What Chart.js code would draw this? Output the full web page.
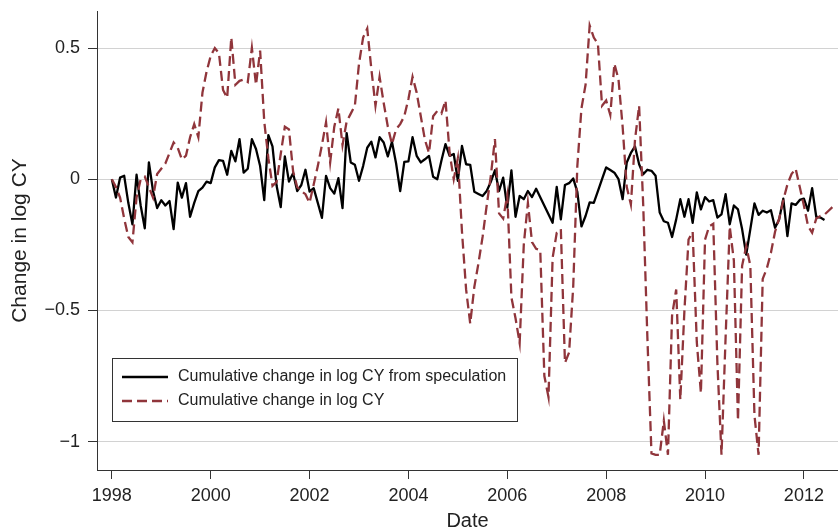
<!DOCTYPE html>
<html>
<head>
<meta charset="utf-8">
<script src="https://cdn.jsdelivr.net/npm/chart.js@4"></script>
<style>
  body { margin: 0; background: #fff; }
  #wrap { width: 838px; height: 531px; }
</style>
</head>
<body>
<div id="wrap"><canvas id="chart" width="838" height="531"></canvas></div>
<script>
// monthly series, first value = Jan 1998
const startYear = 1998;

// cumulative change in log CY from speculation (black)
const speculation = [
  0, -0.07, 0.006, 0.013, -0.09, -0.172, 0.017, -0.10, -0.187, 0.064, -0.045, -0.11,
  -0.08, -0.10, -0.083, -0.19, -0.013, -0.07, -0.015, -0.143, -0.09, -0.045, -0.032, -0.009,
  -0.015, 0.045, 0.073, 0.07, 0.017, 0.108, 0.068, 0.153, 0.025, 0.04, 0.153, 0.115,
  0.05, -0.08, 0.168, 0.125, -0.025, -0.106, 0.087, -0.009, 0.023, -0.045, -0.022, 0.036,
  -0.047, -0.034, -0.09, -0.147, 0.013, -0.034, -0.055, 0.004, -0.11, 0.176, 0.064, 0.055,
  -0.006, 0.05, 0.12, 0.143, 0.083, 0.16, 0.14, 0.087, 0.143, 0.061, -0.045, 0.066,
  0.068, 0.16, 0.089, 0.064, 0.076, 0.089, 0.009, 0.0, 0.07, 0.134, 0.089, 0.096,
  -0.006, 0.127, 0.057, 0.055, -0.048, -0.056, -0.064, -0.045, -0.01, 0.034, -0.045, 0.006,
  -0.108, 0.034, -0.143, -0.064, -0.076, -0.045, -0.068, -0.036, null, null, null, -0.166,
  -0.029, -0.153, -0.022, -0.015, 0.003, -0.048, -0.18, -0.14, -0.088, -0.09, -0.045, 0.0,
  0.045, 0.035, 0.025, 0.0, -0.076, 0.064, 0.10, 0.125, 0.057, 0.019, 0.036, 0.032,
  0.013, -0.127, -0.16, -0.166, -0.22, -0.153, -0.076, -0.143, -0.076, -0.166, -0.05, -0.115,
  -0.068, -0.085, -0.08, -0.146, -0.134, -0.057, -0.172, -0.10, -0.115, -0.19, -0.287, -0.19,
  -0.092, -0.136, -0.12, -0.127, -0.118, -0.185, -0.153, -0.074, -0.217, -0.092, -0.098, -0.079,
  -0.074, -0.12, -0.034, -0.143, -0.146, -0.155
];

// cumulative change in log CY (red dashed)
const total = [
  0, -0.03, -0.07, -0.15, -0.22, -0.24, -0.07, 0.0, 0.01, -0.03, -0.07, 0.02,
  0.04, 0.06, 0.10, 0.14, 0.12, 0.075, 0.09, 0.16, 0.21, 0.16, 0.33, 0.41,
  0.47, 0.50, 0.48, 0.34, 0.31, 0.54, 0.36, 0.375, 0.38, 0.37, 0.50, 0.36,
  0.49, 0.22, 0.08, -0.025, -0.01, 0.096, 0.20, 0.19, 0.03, -0.03, -0.045, -0.057,
  -0.09, -0.02, 0.05, 0.13, 0.217, 0.064, 0.20, 0.27, 0.13, 0.22, 0.25, 0.28,
  0.44, 0.54, 0.574, 0.42, 0.28, 0.39, 0.29, 0.20, 0.134, 0.19, 0.21, 0.24,
  0.306, 0.39, 0.33, 0.24, 0.15, 0.10, 0.24, 0.26, 0.25, 0.30, 0.10, 0.0,
  0.08, -0.2, -0.42, -0.55, -0.41, -0.32, -0.22, -0.10, 0.013, 0.153, -0.13, -0.15,
  -0.06, -0.45, -0.53, -0.624, -0.25, -0.09, -0.24, -0.265, -0.27, -0.75, -0.83, -0.30,
  -0.204, -0.19, -0.70, -0.66, -0.41, 0.05, 0.27, 0.36, 0.586, 0.54, 0.516, 0.28,
  0.30, 0.245, 0.44, 0.38, 0.20, -0.03, -0.096, 0.15, 0.28, -0.10, -0.60, -1.045,
  -1.05, -1.05, -0.92, -1.05, -0.52, -0.42, -0.84, -0.5, -0.23, -0.2, -0.62, -0.815,
  -0.23, -0.18, -0.17, -0.70, -1.05, -0.60, -0.18, -0.31, -0.92, -0.33, -0.255, -0.33,
  -0.9, -1.05, -0.38, -0.34, -0.28, -0.20, -0.15, -0.08, -0.02, 0.02, 0.04, -0.03,
  -0.10, -0.178, -0.204, -0.15, -0.14, -0.135, -0.12, -0.105
];

const xTicks = [1998, 2000, 2002, 2004, 2006, 2008, 2010, 2012];
const yTicks = [-1, -0.5, 0, 0.5];
const seriesNames = ['Cumulative change in log CY from speculation', 'Cumulative change in log CY'];

const fontFam = '"Liberation Sans", Arial, Helvetica, sans-serif';

function toPoints(vals) {
  return vals.map((v, i) => ({ x: startYear + i / 12, y: v }));
}

// boxed legend inside plot, like the stata one
const boxLegend = {
  id: 'boxLegend',
  afterDraw(chart) {
    const ctx = chart.ctx;
    const area = chart.chartArea;
    const x = area.left + 15, y = 358, w = 405, h = 63;
    ctx.save();
    ctx.fillStyle = '#fff';
    ctx.fillRect(x, y, w, h);
    ctx.strokeStyle = '#333';
    ctx.lineWidth = 1;
    ctx.strokeRect(x + 0.5, y + 0.5, w, h);
    chart.data.datasets.forEach((ds, i) => {
      const ly = y + 19 + i * 24;
      ctx.beginPath();
      ctx.strokeStyle = ds.borderColor;
      ctx.lineWidth = ds.borderWidth;
      ctx.setLineDash(ds.borderDash || []);
      ctx.moveTo(x + 10, ly);
      ctx.lineTo(x + 56, ly);
      ctx.stroke();
      ctx.setLineDash([]);
      ctx.fillStyle = '#222';
      ctx.font = '16px ' + fontFam;
      ctx.textBaseline = 'middle';
      ctx.fillText(ds.label, x + 66, ly);
    });
    ctx.restore();
  }
};

new Chart(document.getElementById('chart'), {
  type: 'line',
  data: {
    datasets: [
      {
        label: seriesNames[0],
        data: toPoints(speculation),
        borderColor: '#000',
        borderWidth: 2.3,
        borderJoinStyle: 'round',
        spanGaps: true,
        order: 2,
      },
      {
        label: seriesNames[1],
        data: toPoints(total),
        borderColor: 'rgb(144,53,59)',
        borderWidth: 2.3,
        borderDash: [10, 5],
        spanGaps: true,
        order: 1,
      },
    ],
  },
  options: {
    responsive: false,
    animation: false,
    devicePixelRatio: 1,
    layout: { padding: { top: 11, left: 0, right: 0, bottom: 0 } },
    elements: { point: { radius: 0 }, line: { tension: 0 } },
    plugins: { legend: { display: false }, tooltip: { enabled: false } },
    scales: {
      x: {
        type: 'linear',
        min: 1997.7,
        max: 2012.69,
        afterBuildTicks: a => { a.ticks = xTicks.map(v => ({ value: v })); },
        afterFit: s => { s.height = 61; s.paddingLeft = 0; s.paddingRight = 0; },
        grid: { drawOnChartArea: false, tickLength: 9, tickColor: '#333' },
        border: { color: '#333', width: 1 },
        ticks: { color: '#222', font: { size: 18, family: fontFam }, padding: 6, maxRotation: 0, autoSkip: false, callback: v => String(v) },
        title: { display: true, text: 'Date', color: '#222', font: { size: 20, family: fontFam, lineHeight: 1 }, padding: { top: 0, bottom: 0 } },
      },
      y: {
        min: -1.108,
        max: 0.641,
        afterBuildTicks: a => { a.ticks = yTicks.map(v => ({ value: v })); },
        afterFit: s => { s.width = 97; s.paddingTop = 0; s.paddingBottom = 0; },
        grid: { color: '#d2d2d2', lineWidth: 1, tickLength: 9, tickColor: '#333' },
        border: { color: '#333', width: 1 },
        ticks: { color: '#222', font: { size: 18, family: fontFam }, padding: 8, callback: v => String(v).replace('-', '\u2212') },
        title: { display: true, text: 'Change in log CY', color: '#222', font: { size: 21, family: fontFam }, padding: { top: 8, bottom: 0 } },
      },
    },
  },
  plugins: [boxLegend],
});
</script>
</body>
</html>
